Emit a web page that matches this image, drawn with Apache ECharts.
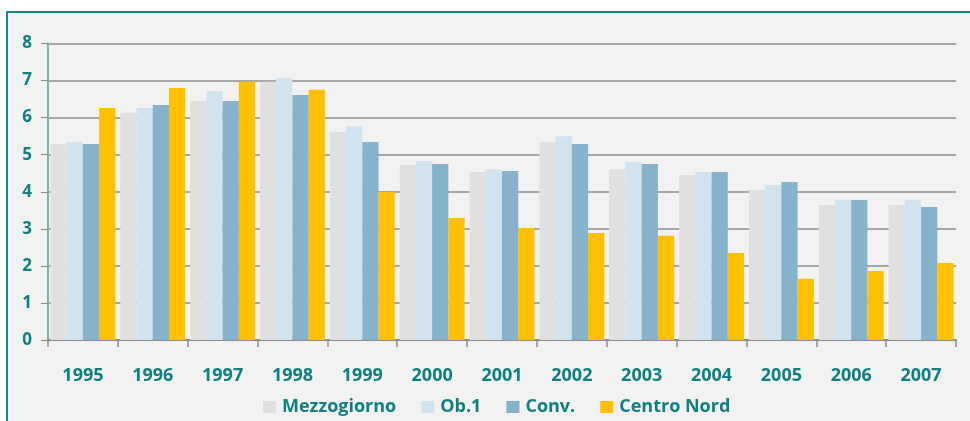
<!DOCTYPE html>
<html><head><meta charset="utf-8">
<script src="https://cdn.jsdelivr.net/npm/echarts@6/dist/echarts.min.js"></script>
<style>html,body{margin:0;padding:0;background:#fff}#c{width:970px;height:421px}</style>
</head><body><div id="c"></div>
<script>
const categories = ['1995','1996','1997','1998','1999','2000','2001','2002','2003','2004','2005','2006','2007'];
const mezzogiorno = [5.29,6.13,6.45,6.97,5.61,4.72,4.53,5.34,4.61,4.45,4.05,3.64,3.64];
const ob1 = [5.34,6.26,6.72,7.07,5.77,4.83,4.61,5.50,4.80,4.53,4.18,3.78,3.78];
const conv = [5.29,6.34,6.45,6.61,5.34,4.75,4.56,5.29,4.75,4.53,4.26,3.78,3.59];
const centroNord = [6.26,6.80,6.97,6.75,3.99,3.29,3.02,2.89,2.81,2.35,1.65,1.86,2.08];
const yTicks = [0,1,2,3,4,5,6,7,8];

const teal = '#0f8080';
const font = '"Open Sans", sans-serif';
const chart = echarts.init(document.getElementById('c'));
function bar(name, data, color){
  return {name, type:'bar', data, itemStyle:{color}, barGap:'0%', barCategoryGap:'7%'};
}
chart.setOption({
  animation:false,
  backgroundColor:'#ffffff',
  graphic:[{type:'rect', z:-10, shape:{x:7,y:12,width:990,height:440}, style:{fill:'#f2f2f2', stroke:'#138a8a', lineWidth:2}}],
  grid:{left:48, right:14, top:43.5, bottom:81, containLabel:false},
  legend:{left:263, top:398, padding:0, itemWidth:13, itemHeight:12, itemGap:25, icon:'rect',
    textStyle:{color:teal, fontFamily:font, fontWeight:'bold', fontSize:18, padding:[0,0,0,1]},
    data:['Mezzogiorno','Ob.1','Conv.','Centro Nord']},
  xAxis:{type:'category', data:categories,
    axisLine:{lineStyle:{color:'#8c8c8c', width:2}},
    axisTick:{show:true, length:7, lineStyle:{color:'#8c8c8c', width:1.5}},
    axisLabel:{color:teal, fontFamily:font, fontWeight:'bold', fontSize:18, margin:27}},
  yAxis:{type:'value', min:0, max:8, interval:1,
    axisLine:{show:true, lineStyle:{color:'#6ab8b8', width:2}},
    axisTick:{show:true, length:7, lineStyle:{color:'#8c8c8c'}},
    splitLine:{lineStyle:{color:'#8c8c8c', width:1.5}},
    axisLabel:{color:teal, fontFamily:font, fontWeight:'bold', fontSize:17, margin:16,
      formatter:v=>yTicks.includes(v)?String(v):''}},
  series:[
    bar('Mezzogiorno', mezzogiorno, '#e0e0e0'),
    bar('Ob.1', ob1, '#d0e3ee'),
    bar('Conv.', conv, '#86b2cc'),
    bar('Centro Nord', centroNord, '#ffc000')
  ]
});
</script></body></html>
